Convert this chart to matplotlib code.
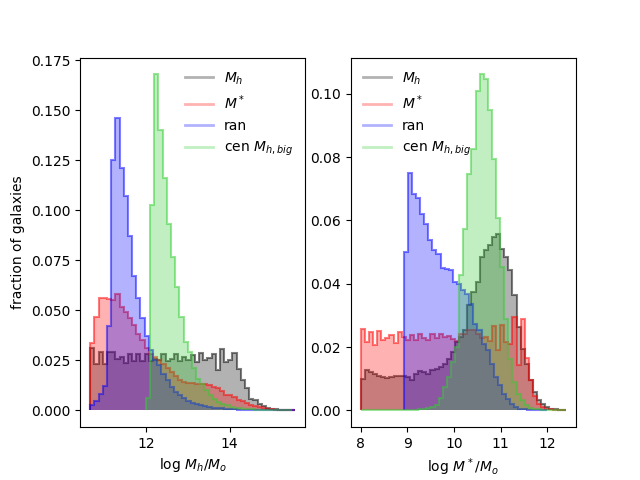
import numpy as np
import matplotlib
matplotlib.use("Agg")
import matplotlib.pyplot as plt
from matplotlib.lines import Line2D

labels = [r'$M_h$', r'$M^*$', 'ran', r'cen $M_{h,big}$']
colors = ['k', 'r', 'b', 'limegreen']

# left panel, log M_h, 0.1 dex bins (start of first bin, bin width)
left_start = [10.67, 10.67, 10.67, 12.0]
left_width = 0.1
left_mh = [0.031, 0.023, 0.029, 0.023, 0.029, 0.029, 0.0255, 0.0265, 0.0235, 0.028,
           0.0245, 0.028, 0.0245, 0.028, 0.0245, 0.0255, 0.025, 0.028, 0.0245, 0.0255,
           0.028, 0.0245, 0.0265, 0.025, 0.0275, 0.024, 0.0287, 0.0253, 0.026, 0.028,
           0.020, 0.0308, 0.024, 0.025, 0.0287, 0.0208, 0.015, 0.011, 0.0058, 0.005,
           0.0033, 0.002, 0.0012, 0.0008, 0.0005, 0.0004, 0.0003, 0.0002, 0.0001]
left_mstar = [0.0337, 0.0467, 0.0563, 0.0563, 0.0555, 0.0553, 0.0583, 0.0517, 0.049, 0.046,
              0.0425, 0.038, 0.035, 0.031, 0.028, 0.0267, 0.025, 0.023, 0.021, 0.019,
              0.017, 0.0153, 0.014, 0.0135, 0.0135, 0.013, 0.013, 0.0133, 0.0125, 0.0115,
              0.011, 0.0095, 0.0078, 0.0075, 0.0065, 0.005, 0.0045, 0.0035, 0.0028, 0.0022,
              0.0015, 0.001, 0.0008, 0.0005, 0.0003, 0.0002, 0.0001, 0.0001, 0.0]
left_ran = [0.0025, 0.0045, 0.008, 0.012, 0.042, 0.125, 0.146, 0.121, 0.107, 0.087,
            0.067, 0.056, 0.046, 0.037, 0.030, 0.025, 0.0225, 0.018, 0.015, 0.0117,
            0.009, 0.0075, 0.006, 0.0047, 0.0036, 0.003, 0.0025, 0.002, 0.0017, 0.0014,
            0.0012, 0.001, 0.0008, 0.0006, 0.0005, 0.0004, 0.0003, 0.0002, 0.0002, 0.0001,
            0.0001, 0.0001, 0.0001, 0.0, 0.0, 0.0, 0.0, 0.0, 0.0]
left_cen = [0.006, 0.1025, 0.168, 0.14, 0.116, 0.0933, 0.0767, 0.0617, 0.0467, 0.034,
            0.029, 0.021, 0.0158, 0.0133, 0.010, 0.0075, 0.0058, 0.0042, 0.0033, 0.0025,
            0.0017, 0.0012, 0.001, 0.0008, 0.0006, 0.0005, 0.0004, 0.0003, 0.0002, 0.0001,
            0.0001, 0.0001, 0.0001, 0.0001, 0.0001]

# right panel, log M*, 0.088 dex bins
right_start = [8.0, 8.0, 8.92, 8.0]
right_width = 0.088
right_mh = [0.010, 0.0126, 0.0121, 0.0116, 0.011, 0.0107, 0.0103, 0.0107, 0.011, 0.011,
            0.011, 0.0107, 0.0095, 0.0116, 0.0124, 0.012, 0.0116, 0.0126, 0.0132, 0.0137,
            0.0147, 0.0163, 0.0185, 0.0216, 0.0231, 0.0253, 0.0332, 0.0374, 0.0406, 0.0484,
            0.0505, 0.0521, 0.0548, 0.0558, 0.0511, 0.0484, 0.0442, 0.0363, 0.0263, 0.0195,
            0.0147, 0.0095, 0.0058, 0.0032, 0.0021, 0.0011, 0.0005, 0.0003, 0.0002, 0.0001]
right_mstar = [0.0258, 0.0216, 0.0247, 0.0205, 0.025, 0.0221, 0.023, 0.0237, 0.0213, 0.0247,
               0.0232, 0.0221, 0.0237, 0.0222, 0.024, 0.0228, 0.0222, 0.024, 0.0228, 0.024,
               0.0231, 0.0236, 0.0226, 0.022, 0.0242, 0.0242, 0.0255, 0.0255, 0.0242, 0.0228,
               0.0232, 0.022, 0.0268, 0.019, 0.027, 0.0215, 0.021, 0.0295, 0.0142, 0.029,
               0.0165, 0.0095, 0.0047, 0.0021, 0.0011, 0.0005, 0.0003, 0.0002, 0.0001, 0.0]
right_ran = [0.050, 0.075, 0.0684, 0.0672, 0.0621, 0.059, 0.0537, 0.0508, 0.0495, 0.0451,
             0.0447, 0.0442, 0.0406, 0.040, 0.0379, 0.0368, 0.0337, 0.0274, 0.0253, 0.0211,
             0.019, 0.0147, 0.0105, 0.0079, 0.0053, 0.0037, 0.0021, 0.0011, 0.0005, 0.0004,
             0.0002, 0.0001, 0.0001, 0.0001, 0.0]
right_cen = [0.0, 0.0, 0.0, 0.0, 0.0, 0.0, 0.0, 0.0, 0.0, 0.0,
             0.0, 0.0, 0.0, 0.0002, 0.0003, 0.0005, 0.0008, 0.0012, 0.0018, 0.004,
             0.0074, 0.0105, 0.0153, 0.020, 0.0426, 0.0574, 0.0748, 0.0827, 0.101, 0.1061,
             0.1045, 0.0948, 0.0795, 0.0606, 0.0453, 0.029, 0.0163, 0.0089, 0.0053, 0.0032,
             0.0016, 0.0008, 0.0005, 0.0003, 0.0002, 0.0001, 0.0001, 0.0001, 0.0, 0.0]


def draw_panel(ax, series, starts, width):
    for vals, x0, c in zip(series, starts, colors):
        vals = np.array(vals)
        edges = x0 + width * np.arange(len(vals) + 1)
        ax.stairs(vals, edges, fill=True, color=c, alpha=0.3, lw=0)
        ax.stairs(vals, edges, color=c, alpha=0.5, lw=1.5)
    ax.use_sticky_edges = False
    ax.autoscale()


fig, (ax1, ax2) = plt.subplots(1, 2, figsize=(6.4, 4.8), dpi=100)

draw_panel(ax1, [left_mh, left_mstar, left_ran, left_cen], left_start, left_width)
draw_panel(ax2, [right_mh, right_mstar, right_ran, right_cen], right_start, right_width)

handles = [Line2D([], [], color=c, alpha=0.3, lw=2) for c in colors]
ax1.legend(handles, labels, loc='upper right', frameon=False)
ax2.legend(handles, labels, loc='upper left', frameon=False)

ax1.set_xlabel(r'log $M_h/M_o$')
ax1.set_ylabel('fraction of galaxies')
ax2.set_xlabel(r'log $M^*/M_o$')

plt.savefig('out.png')
